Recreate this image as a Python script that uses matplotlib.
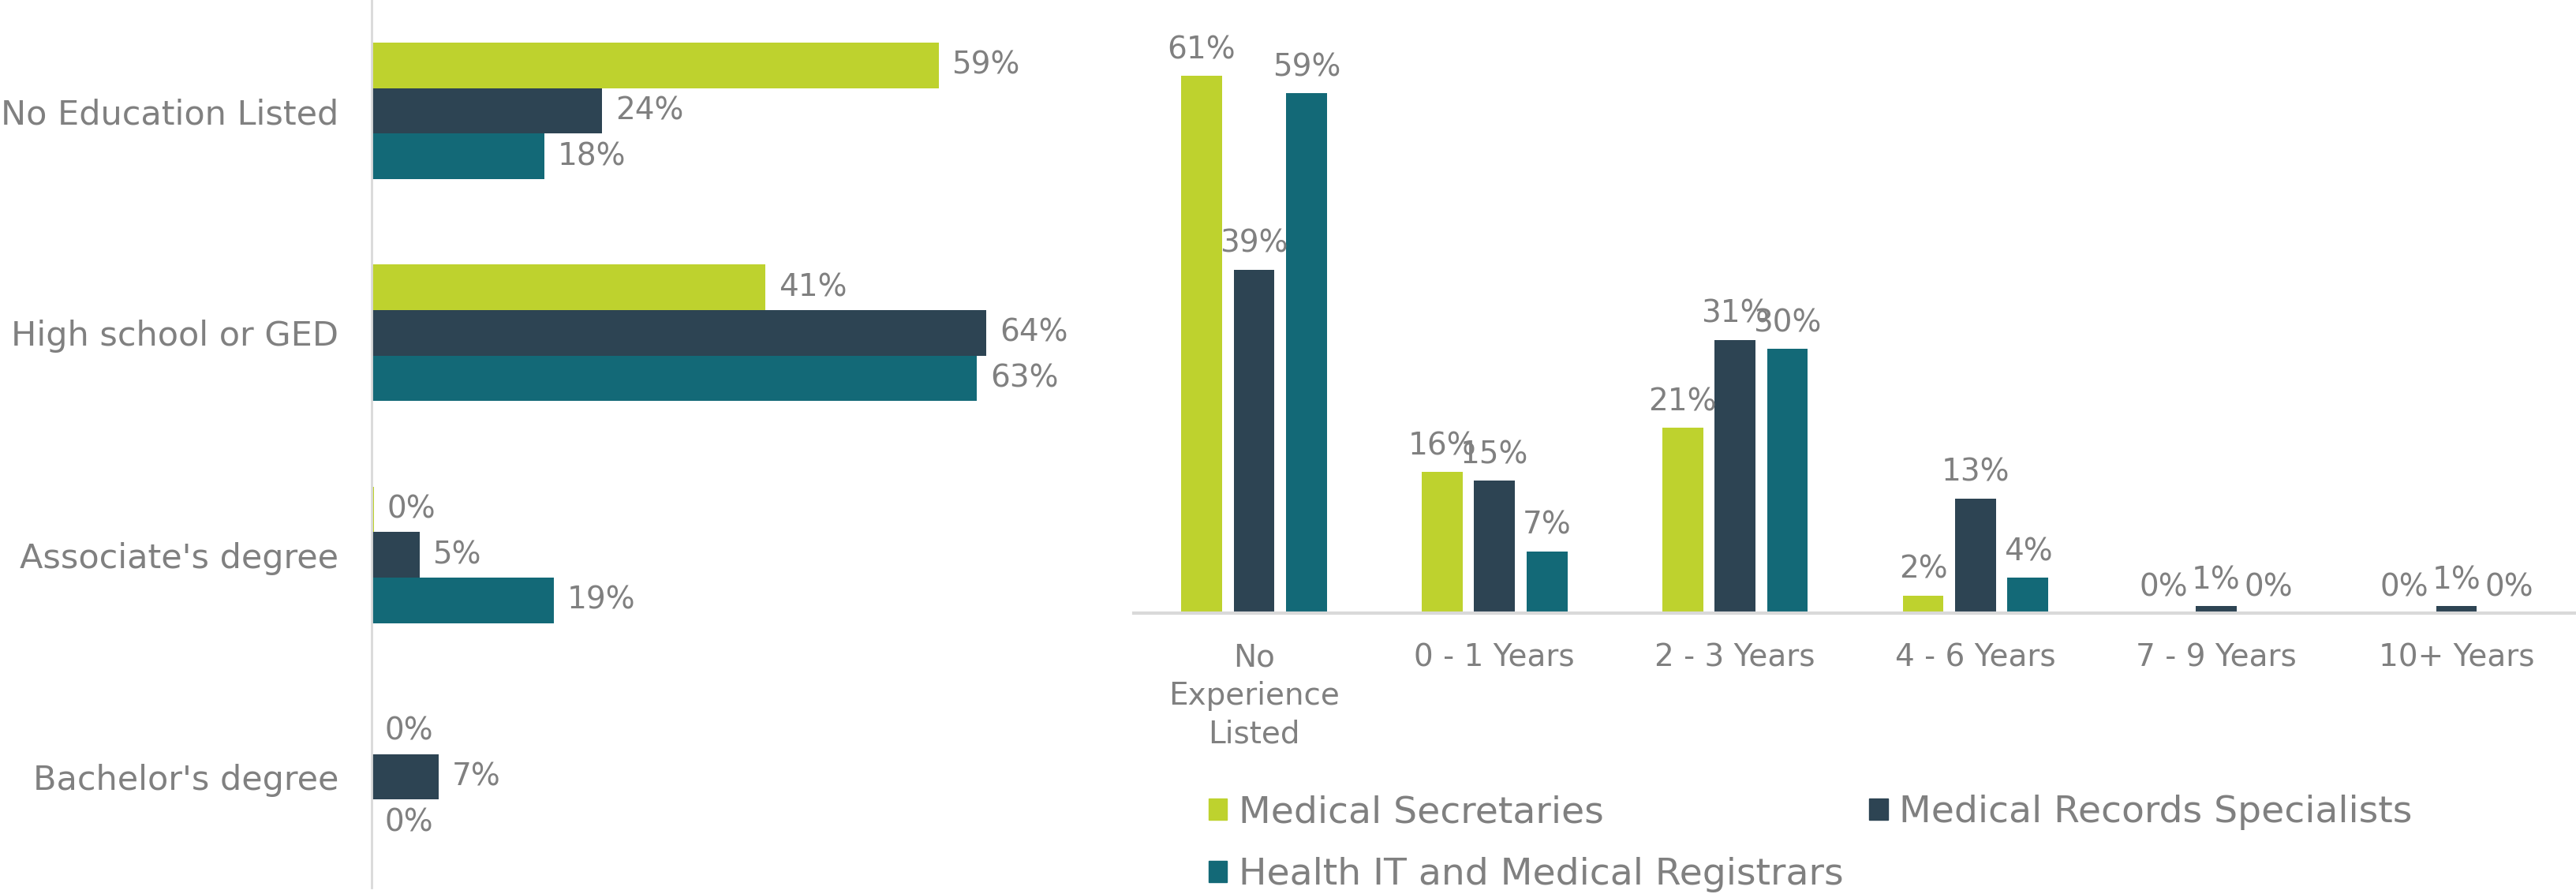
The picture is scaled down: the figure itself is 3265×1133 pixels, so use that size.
import matplotlib
matplotlib.use("Agg")
import matplotlib.pyplot as plt
from matplotlib.patches import Patch
import numpy as np

plt.rcParams['font.family'] = ['DejaVu Sans']

series = ["Medical Secretaries", "Medical Records Specialists", "Health IT and Medical Registrars"]
colors = ["#BED22E", "#2D4453", "#136977"]

edu_categories = ["No Education Listed", "High school or GED", "Associate's degree", "Bachelor's degree"]
edu_secretaries = [0.59, 0.41, 0.003, 0.0]
edu_records = [0.24, 0.64, 0.05, 0.07]
edu_healthit = [0.18, 0.63, 0.19, 0.0]

exp_categories = ["No\nExperience\nListed", "0 - 1 Years", "2 - 3 Years", "4 - 6 Years", "7 - 9 Years", "10+ Years"]
exp_secretaries = [0.61, 0.16, 0.21, 0.02, 0.0, 0.0]
exp_records = [0.39, 0.15, 0.31, 0.13, 0.008, 0.008]
exp_healthit = [0.59, 0.07, 0.30, 0.04, 0.0, 0.0]

TXT = "#808080"
FS = 28

fig = plt.figure(figsize=(32.66, 11.33), dpi=100)

# ---------- Left: horizontal bars ----------
axL = fig.add_axes([0.1441, 0.007, 0.2895, 0.993])
y = np.arange(len(edu_categories))
h = 0.205
for i, (vals, c) in enumerate(zip([edu_secretaries, edu_records, edu_healthit], colors)):
    pos = y + (i - 1) * h
    axL.barh(pos, vals, height=h, color=c, linewidth=0)
    for p, v in zip(pos, vals):
        axL.annotate(f"{v:.0%}", (v, p), xytext=(12, 0), textcoords="offset points",
                     va="center", ha="left", fontsize=FS, color=TXT)
axL.set_ylim(3.5, -0.5)
axL.set_xlim(0, 0.776)
axL.set_yticks(y)
axL.set_yticklabels(edu_categories, fontsize=31, color=TXT)
axL.tick_params(axis="y", length=0, pad=30)
axL.set_xticks([])
for s in ["top", "right", "bottom"]:
    axL.spines[s].set_visible(False)
axL.spines["left"].set_color("#D9D9D9")
axL.spines["left"].set_linewidth(2)

# ---------- Right: vertical bars ----------
axR = fig.add_axes([0.440, 0.3143, 0.560, 0.6857])
x = np.arange(len(exp_categories))
w = 0.17
off = 0.218
for i, (vals, c) in enumerate(zip([exp_secretaries, exp_records, exp_healthit], colors)):
    pos = x + (i - 1) * off
    axR.bar(pos, vals, width=w, color=c, linewidth=0)
    for p, v in zip(pos, vals):
        axR.annotate(f"{v:.0%}", (p, v), xytext=(0, 10), textcoords="offset points",
                     va="bottom", ha="center", fontsize=FS, color=TXT)
axR.set_xlim(-0.5, 5.5)
axR.set_ylim(0, 0.696)
axR.set_xticks(x)
axR.set_xticklabels(exp_categories, fontsize=FS, color=TXT, linespacing=1.35)
axR.tick_params(axis="x", length=0, pad=27)
axR.set_yticks([])
for s in ["top", "right", "left"]:
    axR.spines[s].set_visible(False)
axR.spines["bottom"].set_color("#D9D9D9")
axR.spines["bottom"].set_linewidth(3)

handles = [Patch(color=colors[0], label=series[0]),
           Patch(color=colors[2], label=series[2]),
           Patch(color=colors[1], label=series[1])]
fig.legend(handles=handles, loc="upper left", bbox_to_anchor=(0.469, 0.111), ncol=2,
           frameon=False, fontsize=34, labelcolor=TXT, handlelength=0.5,
           handleheight=0.5, handletextpad=0.3, columnspacing=0.7, labelspacing=0.72,
           borderpad=0, borderaxespad=0)

fig.savefig("out.png", dpi=100)
